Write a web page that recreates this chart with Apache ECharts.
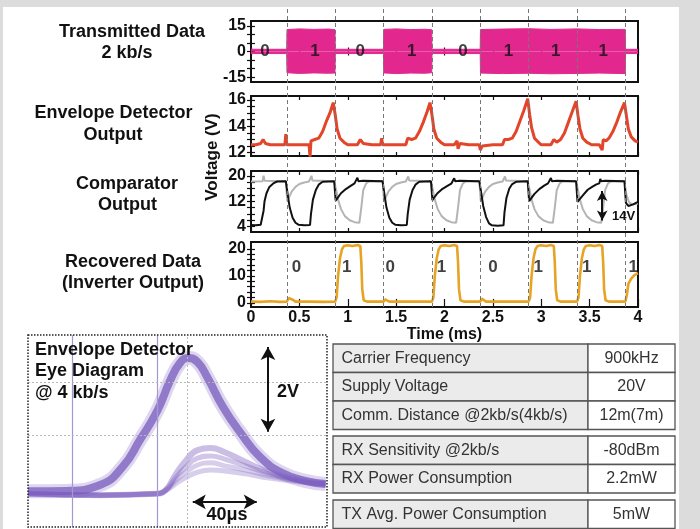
<!DOCTYPE html>
<html><head><meta charset="utf-8">
<script src="https://cdn.jsdelivr.net/npm/echarts@6/dist/echarts.min.js"></script>
<style>
html,body{margin:0;padding:0;background:#dcdcdc;}
#bg{position:absolute;left:3px;top:7px;width:676px;height:522px;background:#fff;}
#c{position:absolute;left:0;top:0;width:700px;height:529px;}
</style>
</head><body><div id="bg"></div><div id="c"></div>
<script>
// ---------- DATA ----------
const bitEdges = [0.37, 0.87, 1.37, 1.87, 2.37, 2.87, 3.37, 3.87];

const txTimes = [0, 0.369, 0.372, 0.5, 0.65, 0.8, 0.868, 0.871, 1.369, 1.372, 1.5, 1.65, 1.8, 1.868, 1.871, 2.369, 2.372, 2.6, 2.87, 3.1, 3.37, 3.6, 3.868, 3.871, 4.0];
const txUpper = [1.3, 1.3, 12.8, 13.2, 12.9, 13.1, 12.7, 1.3, 1.3, 12.9, 13.2, 12.8, 13.0, 12.7, 1.3, 1.3, 12.8, 13.1, 13.3, 12.9, 13.2, 12.8, 12.9, 1.3, 1.3];
const txLower = [-1.2, -1.2, -12.4, -12.8, -12.5, -12.7, -12.6, -1.2, -1.2, -12.5, -12.9, -12.6, -12.7, -12.4, -1.2, -1.2, -12.6, -12.9, -12.7, -13.0, -12.8, -12.6, -12.9, -1.2, -1.2];
const txBits = ['0', '1', '0', '1', '0', '1', '1', '1'];
const txBitTimes = [0.145, 0.66, 1.13, 1.66, 2.19, 2.66, 3.15, 3.64];

const envTimes = [0, 0.05, 0.10, 0.125, 0.15, 0.20, 0.30, 0.35, 0.36, 0.37, 0.45, 0.55, 0.60, 0.61, 0.62, 0.66, 0.70, 0.74, 0.78, 0.82, 0.85, 0.87, 0.89, 0.92, 0.96, 1.00,
  1.10, 1.13, 1.16, 1.25, 1.34, 1.35, 1.36, 1.50, 1.60, 1.62, 1.66, 1.70, 1.74, 1.78, 1.82, 1.85, 1.87, 1.89, 1.92, 1.96, 2.00,
  2.10, 2.13, 2.14, 2.16, 2.25, 2.36, 2.37, 2.39, 2.50, 2.60, 2.62, 2.66, 2.70, 2.74, 2.78, 2.82, 2.86, 2.88, 2.90, 2.93, 2.97, 3.00,
  3.10, 3.13, 3.16, 3.20, 3.24, 3.28, 3.32, 3.36, 3.38, 3.40, 3.43, 3.47, 3.52, 3.60, 3.63, 3.64, 3.67, 3.70, 3.74, 3.78, 3.82, 3.86, 3.88, 3.90, 3.93, 3.97, 4.00];
const envValues = [12.6, 12.6, 12.7, 13.0, 12.7, 12.6, 12.6, 12.6, 13.4, 12.6, 12.6, 12.6, 12.6, 11.7, 12.9, 13.0, 13.1, 13.6, 14.4, 15.1, 15.8, 14.9, 13.8, 13.1, 12.8, 12.6,
  12.6, 13.0, 12.7, 12.6, 12.6, 13.1, 12.6, 12.6, 12.6, 13.1, 13.0, 13.1, 13.6, 14.3, 15.1, 15.8, 14.9, 13.8, 13.1, 12.8, 12.6,
  12.6, 12.9, 12.3, 12.7, 12.6, 12.6, 12.2, 12.5, 12.6, 12.6, 13.0, 13.0, 13.1, 13.6, 14.4, 15.2, 16.1, 14.9, 13.9, 13.1, 12.8, 12.6,
  12.6, 13.0, 12.8, 13.0, 13.5, 14.3, 15.1, 15.9, 14.8, 13.8, 13.1, 12.8, 12.6, 12.6, 12.2, 13.0, 12.9, 13.1, 13.6, 14.3, 15.1, 15.8, 14.8, 13.8, 13.2, 12.9, 12.8];

const cmpBlackTimes = [0.00, 0.05, 0.10, 0.12, 0.13, 0.14, 0.16, 0.19, 0.23, 0.27, 0.36,
  0.37, 0.38, 0.40, 0.43, 0.46, 0.49, 0.55, 0.61, 0.62, 0.64, 0.67, 0.70, 0.74, 0.86,
  0.87, 0.875, 0.89, 0.93, 0.98, 1.03, 1.07, 1.09, 1.10, 1.11, 1.16, 1.36,
  1.37, 1.38, 1.40, 1.43, 1.46, 1.49, 1.55, 1.61, 1.62, 1.64, 1.67, 1.70, 1.74, 1.86,
  1.87, 1.875, 1.89, 1.93, 1.98, 2.03, 2.07, 2.09, 2.10, 2.11, 2.16, 2.36,
  2.37, 2.38, 2.40, 2.43, 2.46, 2.49, 2.55, 2.61, 2.62, 2.64, 2.67, 2.70, 2.74, 2.86,
  2.87, 2.875, 2.89, 2.93, 2.98, 3.03, 3.07, 3.09, 3.10, 3.11, 3.16, 3.36,
  3.37, 3.375, 3.39, 3.43, 3.48, 3.53, 3.57, 3.60, 3.61, 3.62, 3.66, 3.86,
  3.87, 3.875, 3.90, 3.95, 4.00];
const cmpBlackValues = [4.5, 4.4, 4.6, 4.5, 9.0, 12.0, 14.5, 16.5, 17.6, 18.2, 18.3,
  18.2, 14.0, 10.0, 6.8, 5.2, 4.6, 4.4, 4.5, 8.0, 12.5, 15.5, 17.2, 18.1, 18.3,
  18.0, 12.2, 12.8, 14.5, 15.8, 16.8, 17.6, 18.0, 19.4, 18.3, 18.4, 18.3,
  18.2, 14.0, 10.0, 6.8, 5.2, 4.6, 4.4, 4.5, 8.0, 12.5, 15.5, 17.2, 18.1, 18.3,
  18.0, 12.3, 13.0, 14.6, 15.9, 16.8, 17.5, 17.9, 19.2, 18.3, 18.4, 18.3,
  18.2, 14.5, 10.5, 7.0, 5.0, 4.4, 4.3, 4.4, 8.5, 13.0, 16.0, 17.4, 18.1, 18.3,
  18.0, 12.0, 12.6, 14.3, 15.8, 16.9, 17.6, 18.0, 19.3, 18.3, 18.4, 18.3,
  18.0, 11.8, 12.2, 13.8, 15.6, 16.6, 17.3, 17.6, 19.0, 18.3, 18.4, 18.3,
  18.0, 11.5, 10.5, 11.0, 11.8];

const cmpGrayTimes = [0.00, 0.12, 0.13, 0.14, 0.36,
  0.37, 0.375, 0.39, 0.42, 0.46, 0.50, 0.55, 0.60, 0.62, 0.625, 0.635, 0.86,
  0.87, 0.88, 0.90, 0.93, 0.97, 1.02, 1.07, 1.12, 1.13, 1.14, 1.16, 1.19, 1.22, 1.36,
  1.37, 1.375, 1.39, 1.42, 1.46, 1.50, 1.55, 1.60, 1.62, 1.625, 1.635, 1.86,
  1.87, 1.88, 1.90, 1.93, 1.97, 2.02, 2.07, 2.12, 2.13, 2.14, 2.16, 2.19, 2.22, 2.36,
  2.37, 2.375, 2.39, 2.42, 2.46, 2.50, 2.55, 2.60, 2.62, 2.625, 2.635, 2.86,
  2.87, 2.88, 2.90, 2.93, 2.97, 3.02, 3.07, 3.12, 3.13, 3.14, 3.16, 3.19, 3.22, 3.36,
  3.37, 3.38, 3.40, 3.43, 3.47, 3.52, 3.57, 3.62, 3.63, 3.64, 3.66, 3.69, 3.72, 3.86,
  3.87, 3.88, 3.91, 3.95, 4.00];
const cmpGrayValues = [18.2, 18.3, 20.0, 18.4, 18.3,
  18.2, 12.0, 13.0, 15.0, 16.5, 17.4, 17.9, 18.2, 18.3, 20.0, 18.5, 18.3,
  18.3, 15.5, 12.5, 9.5, 7.3, 6.0, 5.4, 5.2, 5.3, 10.0, 15.5, 17.6, 18.2, 18.3,
  18.2, 12.0, 13.0, 15.0, 16.5, 17.4, 17.9, 18.2, 18.3, 19.8, 18.5, 18.3,
  18.3, 15.5, 12.5, 9.5, 7.3, 6.0, 5.4, 5.2, 5.3, 10.0, 15.5, 17.6, 18.2, 18.3,
  18.2, 12.0, 13.0, 15.0, 16.5, 17.4, 17.9, 18.2, 18.3, 19.8, 18.5, 18.3,
  18.3, 15.5, 12.5, 9.5, 7.3, 6.0, 5.4, 5.2, 5.3, 10.0, 15.5, 17.6, 18.2, 18.3,
  18.3, 15.5, 12.5, 9.5, 7.3, 6.0, 5.4, 5.2, 5.3, 10.0, 15.5, 17.6, 18.2, 18.3,
  18.2, 14.0, 11.5, 11.0, 11.3];

const recTimes = [0.00, 0.10, 0.20, 0.30, 0.37, 0.39, 0.41, 0.43, 0.46, 0.60, 0.75,
  0.87, 0.885, 0.90, 0.92, 0.94, 0.96, 1.00, 1.05, 1.10, 1.13, 1.14, 1.15, 1.165, 1.20,
  1.37, 1.385, 1.40, 1.43, 1.60,
  1.87, 1.885, 1.90, 1.92, 1.94, 1.96, 2.00, 2.05, 2.10, 2.13, 2.14, 2.15, 2.165, 2.20,
  2.37, 2.385, 2.40, 2.43, 2.60,
  2.87, 2.885, 2.90, 2.92, 2.94, 2.96, 3.00, 3.05, 3.10, 3.13, 3.14, 3.15, 3.165, 3.20,
  3.37, 3.385, 3.40, 3.42, 3.44, 3.46, 3.50, 3.55, 3.60, 3.63, 3.64, 3.65, 3.665, 3.70,
  3.87, 3.885, 3.90, 3.93, 3.96, 4.00];
const recValues = [0.5, 0.4, 0.6, 0.4, 0.5, 1.8, 2.3, 1.2, 0.5, 0.5, 0.4,
  0.5, 2.0, 10.0, 16.5, 19.8, 21.0, 21.3, 21.0, 21.4, 21.0, 15.0, 5.0, 1.0, 0.5,
  0.5, 1.3, 1.0, 0.5, 0.5,
  0.5, 2.0, 10.0, 16.5, 19.8, 21.0, 21.3, 21.0, 21.4, 21.0, 15.0, 5.0, 1.0, 0.5,
  0.5, 1.6, 1.3, 0.5, 0.5,
  0.5, 2.0, 10.0, 16.5, 19.8, 21.0, 21.3, 21.0, 21.4, 21.0, 15.0, 5.0, 1.0, 0.5,
  0.5, 2.0, 10.0, 16.5, 19.8, 21.0, 21.3, 21.0, 21.4, 21.0, 15.0, 5.0, 1.0, 0.5,
  0.5, 3.0, 7.0, 9.0, 10.2, 11.0];
const recBits = ['0', '1', '0', '1', '0', '1', '1', '1'];
const recBitTimes = [0.47, 0.99, 1.44, 1.97, 2.50, 2.97, 3.47, 3.95];
const recBitLevel = 13;

const txYLabels = [-15, 0, 15];
const txYTicks = [-15, -10, -5, 0, 5, 10, 15];
const envYLabels = [12, 14, 16];
const envYTicks = [12, 12.5, 13, 13.5, 14, 14.5, 15, 15.5, 16];
const cmpYLabels = [4, 12, 20];
const cmpYTicks = [4, 6, 8, 10, 12, 14, 16, 18, 20];
const recYLabels = [0, 10, 20];
const recYTicks = [0, 2, 4, 6, 8, 10, 12, 14, 16, 18, 20];

// eye diagram (x in microseconds, y in volts)
const eyeUpperTimes = [0, 24, 45, 59, 70, 81, 89, 95, 100, 106, 112, 122, 133, 145, 159, 174, 186];
const eyeUpperValues = [0.84, 0.85, 0.99, 1.41, 2.05, 2.75, 3.46, 3.86, 3.98, 3.88, 3.53, 2.82, 2.21, 1.65, 1.27, 1.08, 1.01];
const eyeLowerTimes = [0, 45, 80, 86, 92, 98, 106, 114, 123, 136, 151, 170, 186];
const eyeLower1 = [0.78, 0.75, 0.78, 0.87, 1.22, 1.53, 1.81, 1.86, 1.76, 1.53, 1.29, 1.11, 1.01];
const eyeLower2 = [0.78, 0.75, 0.78, 0.87, 1.15, 1.39, 1.62, 1.67, 1.60, 1.44, 1.25, 1.08, 1.01];
const eyeLower3 = [0.78, 0.75, 0.78, 0.86, 1.08, 1.27, 1.46, 1.51, 1.44, 1.34, 1.20, 1.08, 1.01];
const eyeLower4 = [0.78, 0.75, 0.78, 0.85, 1.01, 1.15, 1.29, 1.34, 1.32, 1.25, 1.15, 1.06, 1.01];
const eyeCursors = [27.5, 80.6];
const eyeGridX = [99.4];
const eyeGridY = [3.41, 2.16];
const eyeVoltArrow = [150, 4.24, 2.24];
const eyeTimeArrow = [103, 143, 0.59];

const tableLabels = ['Carrier Frequency', 'Supply Voltage', 'Comm. Distance @2kb/s(4kb/s)', 'RX Sensitivity @2kb/s', 'RX Power Consumption', 'TX Avg. Power Consumption'];
const tableValues = ['900kHz', '20V', '12m(7m)', '-80dBm', '2.2mW', '5mW'];

// ---------- CHART ----------
const FONT = '"Liberation Sans", Arial, sans-serif';
const zip = (a, b) => a.map((t, i) => [t, b[i]]);
const PINK = '#e2288f', RED = '#e2452a', ORANGE = '#e6a324', PURPLE = '#7a5cbe';

const panels = [
  {top: 21, height: 61, min: -17.8, max: 17.8, labels: txYLabels, ticks: txYTicks},
  {top: 96, height: 60, min: 11.75, max: 16.3, labels: envYLabels, ticks: envYTicks},
  {top: 171, height: 61, min: 2.3, max: 21.5, labels: cmpYLabels, ticks: cmpYTicks},
  {top: 242, height: 65, min: -1.5, max: 22.5, labels: recYLabels, ticks: recYTicks}
];
const tickStyle = {color: '#111', width: 1.2};
const labelFont = {color: '#111', fontSize: 16, fontWeight: 'bold', fontFamily: FONT};

const grid = [], xAxis = [], yAxis = [];
panels.forEach((p, i) => {
  grid.push({left: 251, width: 387, top: p.top, height: p.height, show: true, borderColor: '#111', borderWidth: 2, backgroundColor: 'transparent'});
  xAxis.push({gridIndex: i, type: 'value', min: 0, max: 4, interval: 0.5, position: 'bottom',
    axisLine: {show: false}, splitLine: {show: false},
    axisTick: {inside: true, length: 4, lineStyle: tickStyle},
    axisLabel: Object.assign({show: i === 3, margin: 3}, labelFont),
    name: i === 3 ? 'Time (ms)' : '', nameLocation: 'middle', nameGap: 13,
    nameTextStyle: {color: '#111', fontSize: 16, fontWeight: 'bold', fontFamily: FONT}});
  xAxis.push({gridIndex: i, type: 'value', min: 0, max: 4, interval: 0.5, position: 'top',
    axisLine: {show: false}, splitLine: {show: false},
    axisTick: {inside: true, length: 4, lineStyle: tickStyle}, axisLabel: {show: false}});
  yAxis.push({gridIndex: i, type: 'value', min: p.min, max: p.max, position: 'left',
    axisLine: {show: false}, splitLine: {show: false},
    axisTick: {show: true, inside: true, length: 4, customValues: p.ticks, lineStyle: tickStyle},
    axisLabel: Object.assign({customValues: p.labels, margin: 5}, labelFont)});
  yAxis.push({gridIndex: i, type: 'value', min: p.min, max: p.max, position: 'right',
    axisLine: {show: false}, splitLine: {show: false},
    axisTick: {show: true, inside: true, length: 4, customValues: p.ticks, lineStyle: tickStyle},
    axisLabel: {show: false}});
});
// overlay grid for dashed bit boundaries (grid 4, axes 8)
grid.push({left: 251, width: 387, top: 7, height: 300});
xAxis.push({gridIndex: 4, type: 'value', min: 0, max: 4, show: false});
yAxis.push({gridIndex: 4, type: 'value', min: 0, max: 1, show: false});
// eye diagram grid (grid 5, axes 9)
grid.push({left: 28, top: 335, width: 299, height: 192});
xAxis.push({gridIndex: 5, type: 'value', min: 0, max: 186.9, show: false});
yAxis.push({gridIndex: 5, type: 'value', min: 0, max: 4.52, show: false});
const OV = {xAxisIndex: 8, yAxisIndex: 8};
const EYE = {xAxisIndex: 9, yAxisIndex: 9};

const ax = (i) => ({xAxisIndex: 2 * i, yAxisIndex: 2 * i});
const bitLabel = {show: true, position: 'inside', color: '#111', fontSize: 17, fontWeight: 'bold', fontFamily: FONT, formatter: p => p.data[2]};

const series = [
  Object.assign({type: 'line', data: zip(txTimes, txUpper), symbol: 'none', lineStyle: {color: PINK, width: 1}, areaStyle: {color: PINK, opacity: 1}}, ax(0)),
  Object.assign({type: 'line', data: zip(txTimes, txLower), symbol: 'none', lineStyle: {color: PINK, width: 1}, areaStyle: {color: PINK, opacity: 1}}, ax(0)),
  Object.assign({type: 'scatter', data: txBits.map((b, k) => [txBitTimes[k], 0, b]), symbolSize: 0, z: 6, label: bitLabel}, ax(0)),
  Object.assign({type: 'line', data: zip(envTimes, envValues), symbol: 'none', lineStyle: {color: RED, width: 3}}, ax(1)),
  Object.assign({type: 'line', data: zip(cmpGrayTimes, cmpGrayValues), symbol: 'none', lineStyle: {color: '#b4b4b4', width: 2}}, ax(2)),
  Object.assign({type: 'line', data: zip(cmpBlackTimes, cmpBlackValues), symbol: 'none', lineStyle: {color: '#111', width: 2},
    markLine: {silent: true, symbol: ['arrow', 'arrow'], symbolSize: [8, 10], label: {show: false},
      lineStyle: {color: '#111', width: 2, type: 'solid'},
      data: [[{coord: [3.63, 15.2]}, {coord: [3.63, 5.9]}]]},
    markPoint: {silent: true, symbol: 'circle', symbolSize: 0,
      label: {show: true, color: '#111', fontSize: 13, fontWeight: 'bold', fontFamily: FONT, formatter: '14V'},
      data: [{coord: [3.85, 7.2]}]}}, ax(2)),
  Object.assign({type: 'line', data: zip(recTimes, recValues), symbol: 'none', lineStyle: {color: ORANGE, width: 2.6}}, ax(3)),
  Object.assign({type: 'scatter', data: recBits.map((b, k) => [recBitTimes[k], recBitLevel, b]), symbolSize: 0, z: 6, label: bitLabel}, ax(3)),
  // dashed bit boundaries
  Object.assign({type: 'line', data: [[0, -1]], symbol: 'none', lineStyle: {width: 0}, z: 5,
    markLine: {silent: true, symbol: 'none', label: {show: false}, lineStyle: {color: '#777', width: 1, type: [4, 3]},
      data: bitEdges.map(t => ({xAxis: t}))}}, OV),
  // eye grid decorations
  Object.assign({type: 'line', data: [[0, -1]], symbol: 'none', lineStyle: {width: 0}, z: 1,
    markLine: {silent: true, symbol: 'none', label: {show: false},
      data: eyeCursors.map(t => ({xAxis: t, lineStyle: {color: '#a497d2', width: 1.2, type: 'solid'}}))
        .concat(eyeGridX.map(t => ({xAxis: t, lineStyle: {color: '#b8b8b8', width: 1, type: [2, 2]}})))
        .concat(eyeGridY.map(v => ({yAxis: v, lineStyle: {color: '#b8b8b8', width: 1, type: [2, 2]}})))}}, EYE),
  // eye traces
  Object.assign({type: 'line', data: zip(eyeLowerTimes, eyeLower4), smooth: true, symbol: 'none', lineStyle: {color: PURPLE, width: 5, opacity: 0.3}}, EYE),
  Object.assign({type: 'line', data: zip(eyeLowerTimes, eyeLower3), smooth: true, symbol: 'none', lineStyle: {color: PURPLE, width: 5, opacity: 0.3}}, EYE),
  Object.assign({type: 'line', data: zip(eyeLowerTimes, eyeLower2), smooth: true, symbol: 'none', lineStyle: {color: PURPLE, width: 5, opacity: 0.35}}, EYE),
  Object.assign({type: 'line', data: zip(eyeLowerTimes, eyeLower1), smooth: true, symbol: 'none', lineStyle: {color: PURPLE, width: 6, opacity: 0.4}}, EYE),
  Object.assign({type: 'line', data: zip(eyeUpperTimes, eyeUpperValues), smooth: true, symbol: 'none', lineStyle: {color: PURPLE, width: 14, opacity: 0.25}}, EYE),
  Object.assign({type: 'line', data: zip(eyeUpperTimes, eyeUpperValues), smooth: true, symbol: 'none', lineStyle: {color: PURPLE, width: 8, opacity: 0.75},
    markLine: {silent: true, symbol: ['arrow', 'arrow'], symbolSize: [11, 13], label: {show: false},
      lineStyle: {color: '#111', width: 2, type: 'solid', opacity: 1},
      data: [[{coord: [eyeVoltArrow[0], eyeVoltArrow[1]]}, {coord: [eyeVoltArrow[0], eyeVoltArrow[2]]}],
             [{coord: [eyeTimeArrow[0], eyeTimeArrow[2]]}, {coord: [eyeTimeArrow[1], eyeTimeArrow[2]]}]]}}, EYE)
];

// graphics: titles, eye box/text, table
const g = [];
const txt = (text, x, y, opts) => g.push(Object.assign({type: 'text', x, y, z: 100,
  style: Object.assign({text, fill: '#111', font: 'bold 18px ' + FONT, textAlign: 'center', textVerticalAlign: 'middle'}, opts || {})}));
txt('Transmitted Data', 132, 32); txt('2 kb/s', 127, 53);
txt('Envelope Detector', 113.5, 113); txt('Output', 113, 135);
txt('Comparator', 127, 184); txt('Output', 127.5, 205);
txt('Recovered Data', 133, 262); txt('(Inverter Output)', 133, 283);
g.push({type: 'text', x: 212, y: 157, rotation: Math.PI / 2, z: 100,
  style: {text: 'Voltage (V)', fill: '#111', font: 'bold 17px ' + FONT, textAlign: 'center', textVerticalAlign: 'middle'}});
// eye box
g.push({type: 'rect', shape: {x: 28, y: 335, width: 299, height: 192}, z: 100,
  style: {fill: 'none', stroke: '#222', lineWidth: 1.5, lineDash: [1.5, 1.5]}});
txt('Envelope Detector', 35, 350, {textAlign: 'left'});
txt('Eye Diagram', 35, 371.5, {textAlign: 'left'});
txt('@ 4 kb/s', 35, 393, {textAlign: 'left'});
txt('2V', 288, 392);
txt('40\u03bcs', 227, 515);
// table
const rowTops = [344, 372.5, 401, 436, 464.5, 500];
const rowH = 28.5, tL = 333, tD = 588, tR = 675;
tableLabels.forEach((lab, k) => {
  const y = rowTops[k];
  g.push({type: 'rect', shape: {x: tL, y, width: tD - tL, height: rowH}, z: 90, style: {fill: '#ebebeb', stroke: '#555', lineWidth: 1.3}});
  g.push({type: 'rect', shape: {x: tD, y, width: tR - tD, height: rowH}, z: 90, style: {fill: '#fff', stroke: '#555', lineWidth: 1.3}});
  txt(lab, tL + 8.5, y + rowH / 2, {textAlign: 'left', font: '16px ' + FONT, fill: '#333'});
  txt(tableValues[k], (tD + tR) / 2, y + rowH / 2, {font: '16px ' + FONT, fill: '#333'});
});

const chart = echarts.init(document.getElementById('c'), null, {renderer: 'canvas'});
chart.setOption({
  animation: false,
  backgroundColor: 'transparent',
  grid, xAxis, yAxis, series,
  graphic: {elements: g}
});
</script></body></html>
